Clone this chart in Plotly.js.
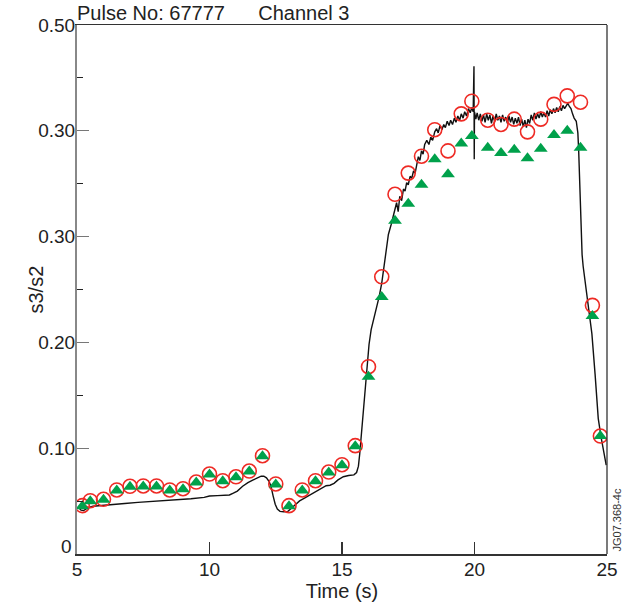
<!DOCTYPE html>
<html>
<head>
<meta charset="utf-8">
<script src="https://cdn.plot.ly/plotly-3.0.1.min.js"></script>
<style>html,body{margin:0;padding:0;background:#fff;}#chart{width:627px;height:610px;}</style>
</head>
<body>
<div id="chart"></div>
<script>
// Marker sample times (s)
const markerTimes = [5.2,5.5,6,6.5,7,7.5,8,8.5,9,9.5,10,10.5,11,11.5,12,12.5,13,13.5,14,14.5,15,15.5,16,16.5,17,17.5,18,18.5,19,19.5,19.9,20.5,21,21.5,22,22.5,23,23.5,24,24.45,24.75];
// Red open circles
const circleValues = [0.0457,0.0504,0.0517,0.0605,0.064,0.0643,0.0643,0.0605,0.0617,0.068,0.0756,0.0693,0.073,0.0784,0.0929,0.0662,0.0457,0.0605,0.0693,0.0775,0.0844,0.1024,0.177,0.262,0.340,0.360,0.376,0.401,0.381,0.416,0.428,0.410,0.406,0.411,0.399,0.411,0.425,0.433,0.427,0.235,0.1115];
// Green triangles
const triangleValues = [0.0452,0.0499,0.0512,0.0600,0.0635,0.0638,0.0638,0.0600,0.0612,0.0675,0.0751,0.0688,0.0725,0.0779,0.0924,0.0657,0.0452,0.0600,0.0688,0.0770,0.0839,0.1019,0.1676,0.243,0.315,0.331,0.349,0.373,0.359,0.388,0.395,0.384,0.379,0.382,0.374,0.383,0.396,0.400,0.384,0.225,0.1115];
// Black trace
const lineTimes = [5.08,5.15,5.25,5.4,5.6,5.9,6.3,6.8,7.3,7.8,8.3,8.8,9.3,9.8,10.0,10.3,10.5,10.75,10.9,11.05,11.25,11.45,11.65,11.8,11.95,12.05,12.15,12.25,12.32,12.4,12.48,12.56,12.66,12.8,12.95,13.1,13.25,13.4,13.6,13.8,14.0,14.2,14.4,14.55,14.7,14.85,15.05,15.25,15.45,15.55,15.62,15.67,15.72,15.78,15.84,15.9,15.95,16.02,16.1,16.2,16.3,16.4,16.5,16.58,16.66,16.75,16.85,16.92,17.0,17.06,17.12,17.18,17.25,17.32,17.38,17.44,17.5,17.57,17.63,17.7,17.76,17.82,17.88,17.94,18.0,18.06,18.12,18.2,18.28,18.35,18.42,18.5,18.57,18.63,18.7,18.77,18.84,18.9,18.97,19.04,19.1,19.17,19.24,19.3,19.37,19.44,19.5,19.57,19.63,19.7,19.77,19.84,19.9,19.95,19.98,19.99,20.0,20.05,20.1,20.16,20.22,20.28,20.34,20.4,20.46,20.52,20.58,20.64,20.7,20.76,20.82,20.88,20.94,21.0,21.06,21.12,21.18,21.24,21.3,21.36,21.42,21.48,21.54,21.6,21.66,21.72,21.78,21.84,21.9,21.96,22.02,22.08,22.14,22.2,22.26,22.32,22.38,22.44,22.5,22.56,22.62,22.68,22.74,22.8,22.86,22.92,22.98,23.04,23.1,23.16,23.22,23.28,23.34,23.4,23.46,23.52,23.58,23.64,23.7,23.76,23.84,23.9,23.93,23.98,24.02,24.04,24.06,24.1,24.17,24.3,24.43,24.55,24.67,24.78,24.85,24.92,24.97];
const lineValues = [0.0435,0.0415,0.041,0.0435,0.0452,0.046,0.0468,0.0478,0.0488,0.0495,0.0503,0.0512,0.0522,0.0535,0.0548,0.0552,0.0555,0.0558,0.0575,0.0595,0.064,0.0675,0.0700,0.0715,0.0735,0.0735,0.0720,0.0685,0.0640,0.0550,0.0470,0.0425,0.0403,0.0400,0.0402,0.0435,0.0470,0.0502,0.0530,0.0558,0.0585,0.0620,0.0645,0.0650,0.0668,0.0700,0.0730,0.0742,0.0748,0.0770,0.0830,0.095,0.110,0.130,0.149,0.165,0.180,0.198,0.212,0.222,0.233,0.243,0.256,0.272,0.288,0.302,0.311,0.318,0.326,0.332,0.3235,0.338,0.334,0.345,0.343,0.351,0.349,0.357,0.355,0.362,0.360,0.368,0.3755,0.372,0.381,0.378,0.387,0.391,0.387,0.394,0.391,0.399,0.402,0.398,0.405,0.401,0.406,0.403,0.409,0.405,0.410,0.406,0.412,0.408,0.414,0.410,0.416,0.412,0.418,0.414,0.421,0.417,0.422,0.418,0.461,0.373,0.418,0.411,0.417,0.410,0.416,0.409,0.415,0.408,0.416,0.410,0.415,0.407,0.414,0.409,0.416,0.410,0.414,0.408,0.415,0.409,0.413,0.407,0.414,0.408,0.413,0.406,0.412,0.407,0.413,0.405,0.411,0.404,0.410,0.403,0.411,0.407,0.415,0.410,0.417,0.411,0.416,0.412,0.418,0.413,0.417,0.413,0.419,0.414,0.420,0.416,0.421,0.417,0.422,0.418,0.423,0.419,0.424,0.421,0.424,0.426,0.423,0.421,0.416,0.412,0.409,0.398,0.382,0.335,0.300,0.287,0.283,0.272,0.259,0.236,0.208,0.170,0.128,0.110,0.101,0.092,0.084];
// Axis ticks
const xTickVals = [5,10,15,20,25];
const xTickText = ["5","10","15","20","25"];
const yTickVals = [0,0.1,0.2,0.3,0.4,0.5];
const yTickText = ["0","0.10","0.20","0.30","0.30","0.50"];
const yMinorVals = [0.05,0.15,0.25,0.35,0.45];

const font = "Liberation Sans, Arial, Helvetica, sans-serif";

const traces = [
  {x: lineTimes, y: lineValues, type: 'scatter', mode: 'lines', line: {color: '#111', width: 1.4}, hoverinfo: 'skip'},
  {x: markerTimes, y: circleValues, type: 'scatter', mode: 'markers', marker: {symbol: 'circle-open', size: 14, color: '#ee2a24', line: {width: 1.6, color: '#ee2a24'}}},
  {x: markerTimes, y: triangleValues, type: 'scatter', mode: 'markers', marker: {symbol: 'triangle-up', size: 12, color: '#00a14b', line: {width: 0}}}
];

// the bottom "0" label sits raised above the corner in the reference; draw it as an annotation
const yTickTextShown = yTickText.map((t, i) => i === 0 ? '' : t);

const layout = {
  width: 627, height: 610,
  margin: {l: 77, r: 20, t: 25, b: 56},
  paper_bgcolor: '#fff', plot_bgcolor: '#fff',
  showlegend: false,
  font: {family: font, color: '#222', size: 19},
  title: {text: 'Pulse No: 67777\u00a0\u00a0\u00a0\u00a0\u00a0\u00a0Channel 3', x: 0, xanchor: 'left', xref: 'paper', y: 0.979, yanchor: 'middle', font: {size: 20, family: font, color: '#222'}},
  xaxis: {
    range: [5, 25], tickmode: 'array', tickvals: xTickVals, ticktext: xTickText,
    ticks: 'inside', ticklen: 12, tickwidth: 1.2, tickcolor: '#333',
    showline: true, linecolor: '#333', linewidth: 1.5, mirror: true,
    showgrid: false, zeroline: false, ticklabelstandoff: -2,
    tickfont: {size: 19, family: font, color: '#222'},
    title: {text: 'Time (s)', font: {size: 20, family: font, color: '#222'}, standoff: 3}
  },
  yaxis: {
    range: [0, 0.5], tickmode: 'array', tickvals: yTickVals, ticktext: yTickTextShown,
    ticks: 'inside', ticklen: 12, tickwidth: 1.2, tickcolor: '#777',
    minor: {tickmode: 'array', tickvals: yMinorVals, ticks: 'inside', ticklen: 6, tickwidth: 1, tickcolor: '#222', showgrid: false},
    showline: true, linecolor: '#888', linewidth: 2,
    showgrid: false, zeroline: false, ticklabelstandoff: -4,
    tickfont: {size: 19, family: font, color: '#222'},
    title: {text: ''}
  },
  shapes: [
    {type: 'line', xref: 'paper', yref: 'paper', x0: 1, x1: 1, y0: 0, y1: 1, line: {color: '#333', width: 1.3}}
  ],
  annotations: [
    {text: yTickText[0], xref: 'paper', yref: 'y', x: 0, y: yTickVals[0], xanchor: 'right', yanchor: 'bottom', xshift: -3, yshift: -5, showarrow: false, font: {size: 19, family: font, color: '#222'}},
    {text: 's3/s2', xref: 'paper', yref: 'paper', x: -42/530, y: 0.5, xanchor: 'center', yanchor: 'middle', textangle: -90, showarrow: false, font: {size: 20, family: font, color: '#222'}},
    {text: 'JG07.368-4c', xref: 'paper', yref: 'paper', x: 1, y: 0, xanchor: 'left', yanchor: 'bottom', xshift: 1, textangle: -90, showarrow: false, font: {size: 11, family: font, color: '#333'}}
  ]
};

Plotly.newPlot('chart', traces, layout, {displayModeBar: false, staticPlot: true});
</script>
</body>
</html>
